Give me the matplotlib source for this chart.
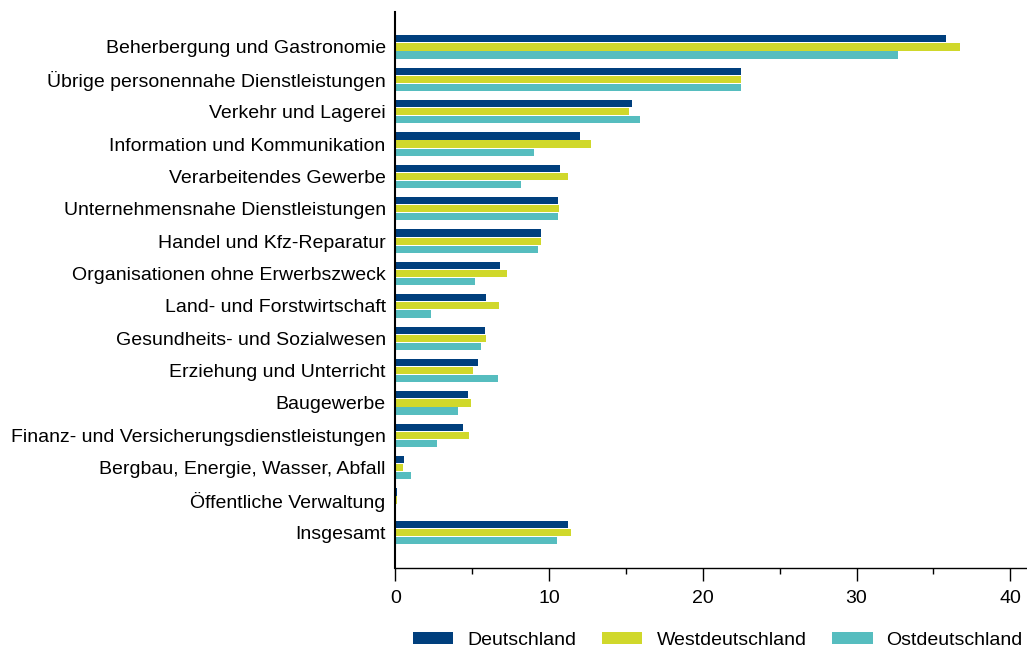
import numpy as np
import matplotlib
matplotlib.use("Agg")
import matplotlib.pyplot as plt
from matplotlib.ticker import MultipleLocator

plt.rcParams['font.family'] = ['Liberation Sans', 'DejaVu Sans']

# Branchen (von oben nach unten)
categories = [
    'Beherbergung und Gastronomie',
    'Übrige personennahe Dienstleistungen',
    'Verkehr und Lagerei',
    'Information und Kommunikation',
    'Verarbeitendes Gewerbe',
    'Unternehmensnahe Dienstleistungen',
    'Handel und Kfz-Reparatur',
    'Organisationen ohne Erwerbszweck',
    'Land- und Forstwirtschaft',
    'Gesundheits- und Sozialwesen',
    'Erziehung und Unterricht',
    'Baugewerbe',
    'Finanz- und Versicherungsdienstleistungen',
    'Bergbau, Energie, Wasser, Abfall',
    'Öffentliche Verwaltung',
    'Insgesamt',
]

deutschland = [35.8, 22.5, 15.4, 12.0, 10.7, 10.6, 9.45, 6.8, 5.9, 5.8, 5.4, 4.7, 4.4, 0.57, 0.08, 11.2]
westdeutschland = [36.7, 22.5, 15.2, 12.7, 11.2, 10.65, 9.45, 7.25, 6.75, 5.87, 5.05, 4.9, 4.8, 0.47, 0.08, 11.4]
ostdeutschland = [32.7, 22.5, 15.9, 9.0, 8.2, 10.6, 9.3, 5.2, 2.3, 5.6, 6.7, 4.1, 2.7, 1.03, 0.0, 10.5]

series = [('Deutschland', deutschland, '#003f7d'),
          ('Westdeutschland', westdeutschland, '#d0d82b'),
          ('Ostdeutschland', ostdeutschland, '#56bdbf')]

fig = plt.figure(figsize=(10.27, 6.52), dpi=100)
ax = fig.add_axes([0.385, 0.1288, 0.6137, 0.8528])

y = np.arange(len(categories))
bh = 0.25
for i, (name, vals, col) in enumerate(series):
    ax.barh(y + (i - 1) * bh, vals, height=bh * 0.88, color=col, label=name)

ax.set_ylim(len(categories) - 1 + 1.1, -1.08)
ax.set_yticks(y)
ax.set_yticklabels(categories, fontsize=14)
ax.tick_params(axis='y', length=0, pad=7)

ax.set_xlim(0, 41)
ax.xaxis.set_major_locator(MultipleLocator(10))
ax.xaxis.set_minor_locator(MultipleLocator(5))
ax.set_xticks([0, 10, 20, 30, 40])
ax.tick_params(axis='x', which='major', length=9, width=1, labelsize=14, pad=7)
ax.tick_params(axis='x', which='minor', length=4, width=1)

for s in ['top', 'right']:
    ax.spines[s].set_visible(False)
ax.spines['left'].set_linewidth(1.5)
ax.spines['bottom'].set_linewidth(1.0)

leg = fig.legend(loc='lower right', bbox_to_anchor=(1.013, -0.022), ncol=3, frameon=False,
                 fontsize=14, handlelength=2.1, handleheight=0.55, columnspacing=1.3,
                 handletextpad=0.72)

fig.savefig('out.png', dpi=100)
